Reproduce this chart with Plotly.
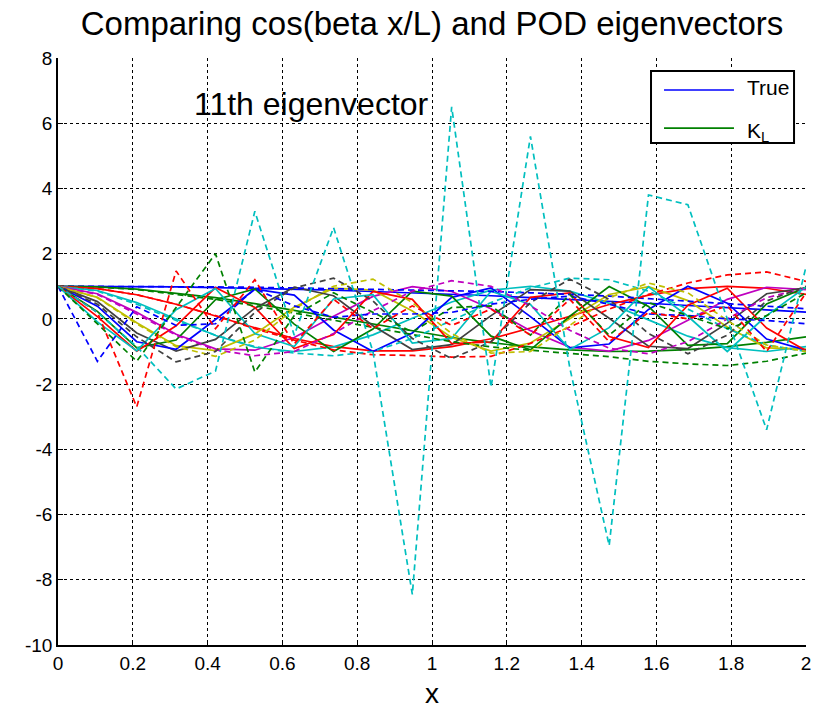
import plotly.graph_objects as go

# grid positions
x_vals = [0.0, 0.1053, 0.2105, 0.3158, 0.4211, 0.5263, 0.6316, 0.7368, 0.8421, 0.9474,
          1.0526, 1.1579, 1.2632, 1.3684, 1.4737, 1.5789, 1.6842, 1.7895, 1.8947, 2.0]

# "True" cos(beta x/L) eigenfunctions (solid)
true_1 = [1.00, 1.00, 0.99, 0.98, 0.96, 0.94, 0.91, 0.88, 0.84, 0.80, 0.76, 0.71, 0.65, 0.60, 0.54, 0.48, 0.41, 0.35, 0.28, 0.21]
true_2 = [1.00, 0.98, 0.91, 0.79, 0.65, 0.47, 0.26, 0.05, -0.17, -0.38, -0.57, -0.73, -0.86, -0.95, -1.00, -0.99, -0.94, -0.85, -0.72, -0.55]
true_3 = [1.00, 0.93, 0.74, 0.45, 0.09, -0.27, -0.60, -0.85, -0.98, -0.98, -0.85, -0.61, -0.28, 0.09, 0.44, 0.73, 0.93, 1.00, 0.94, 0.75]
true_4 = [1.00, 0.87, 0.50, -0.01, -0.51, -0.87, -1.00, -0.86, -0.49, 0.02, 0.52, 0.88, 1.00, 0.85, 0.48, -0.03, -0.53, -0.88, -1.00, -0.85]
true_5 = [1.00, 0.77, 0.20, -0.47, -0.92, -0.96, -0.57, 0.08, 0.69, 0.99, 0.84, 0.31, -0.36, -0.87, -0.99, -0.66, -0.04, 0.60, 0.97, 0.90]
true_6 = [1.00, 0.66, -0.12, -0.82, -0.97, -0.46, 0.36, 0.94, 0.88, 0.24, -0.57, -0.99, -0.74, 0.01, 0.75, 0.99, 0.56, -0.25, -0.89, -0.93]
true_7 = [1.00, 0.53, -0.43, -0.99, -0.63, 0.33, 0.97, 0.71, -0.21, -0.94, -0.79, 0.10, 0.90, 0.85, 0.02, -0.84, -0.91, -0.13, 0.77, 0.95]
true_8 = [1.00, 0.39, -0.70, -0.93, -0.02, 0.91, 0.73, -0.34, -1.00, -0.43, 0.66, 0.95, 0.07, -0.89, -0.77, 0.29, 1.00, 0.48, -0.62, -0.96]
true_9 = [1.00, 0.23, -0.89, -0.65, 0.59, 0.92, -0.16, -1.00, -0.31, 0.85, 0.70, -0.53, -0.95, 0.08, 0.99, 0.38, -0.81, -0.76, 0.46, 0.97]
true_10 = [1.00, 0.07, -0.99, -0.21, 0.96, 0.35, -0.91, -0.48, 0.84, 0.60, -0.76, -0.71, 0.66, 0.80, -0.54, -0.88, 0.42, 0.94, -0.28, -0.98]
true_11 = [1.00, -0.09, -0.98, 0.28, 0.93, -0.45, -0.85, 0.61, 0.74, -0.74, -0.60, 0.85, 0.44, -0.94, -0.27, 0.98, 0.08, -1.00, 0.10, 0.98]

# POD (K-L) eigenvectors (dashed)
pod_1 = [1.00, 1.00, 1.00, 0.99, 0.98, 0.97, 0.95, 0.93, 0.91, 0.89, 0.87, 0.84, 0.80, 0.76, 0.70, 0.62, 0.55, 0.47, 0.39, 0.31]
pod_2 = [1.00, 0.98, 0.90, 0.76, 0.60, 0.40, 0.18, -0.05, -0.28, -0.50, -0.70, -0.86, -0.97, -1.06, -1.16, -1.30, -1.38, -1.43, -1.30, -1.05]
pod_3 = [1.00, 0.93, 0.74, 0.45, 0.10, -0.30, -0.65, -0.95, -1.10, -1.12, -1.17, -1.15, -0.75, -0.25, 0.30, 0.75, 1.10, 1.35, 1.44, 1.15]
pod_4 = [1.00, 0.85, 0.45, -0.05, -0.50, -0.85, -1.05, -1.13, -1.00, -0.60, -0.05, 0.50, 0.95, 1.25, 1.20, 0.85, 0.30, -0.30, -0.80, -1.00]
pod_5 = [1.00, 0.75, 0.15, -0.50, -0.95, -1.13, -1.00, -0.45, 0.25, 0.85, 1.17, 1.00, 0.40, -0.35, -0.90, -1.07, -0.70, 0.00, 0.65, 0.95]
pod_6 = [1.00, 0.65, -0.15, -0.85, -1.15, -0.65, 0.30, 1.00, 1.22, 0.50, -0.45, -1.05, -1.00, -0.20, 0.65, 1.10, 0.80, -0.05, -0.80, -1.00]
pod_7 = [1.00, 0.45, -0.55, -1.32, -1.00, 0.20, 0.95, 1.25, 0.55, -0.60, -1.22, -0.70, 0.50, 1.22, 0.60, -0.45, -1.07, -0.50, 0.55, 1.00]
pod_8 = [1.00, -1.30, 0.37, -0.20, -0.15, 0.92, 0.40, 0.05, 0.15, 0.15, 0.20, 0.45, 0.60, 0.70, 0.45, 0.15, 0.10, 0.00, -0.05, -0.15]
pod_9 = [1.00, -0.15, -1.30, 0.35, 2.00, -1.63, 0.10, 0.80, 0.20, -0.40, 0.35, 0.40, -0.50, 0.75, -0.50, 0.50, 0.10, -0.30, 0.10, 0.80]
pod_10 = [1.00, 0.20, -2.70, 1.47, -0.30, 1.20, -0.77, 0.60, -0.30, 0.40, -0.20, 0.30, -0.50, 0.60, -0.70, 0.20, 0.00, 0.40, -1.00, 0.80]
pod_11 = [1.00, 0.20, -0.85, -2.15, -1.60, 3.30, -0.50, 2.80, -1.00, -8.45, 6.50, -2.10, 5.60, -1.50, -6.95, 3.80, 3.50, 0.00, -3.40, 1.60]

# axis ticks
y_tick_vals = [-10, -8, -6, -4, -2, 0, 2, 4, 6, 8]
y_tick_text = ["-10", "-8", "-6", "-4", "-2", "0", "2", "4", "6", "8"]
x_tick_vals = [0, 0.2, 0.4, 0.6, 0.8, 1, 1.2, 1.4, 1.6, 1.8, 2]
x_tick_text = ["0", "0.2", "0.4", "0.6", "0.8", "1", "1.2", "1.4", "1.6", "1.8", "2"]

true_series = [true_1, true_2, true_3, true_4, true_5, true_6, true_7, true_8, true_9, true_10, true_11]
pod_series = [pod_1, pod_2, pod_3, pod_4, pod_5, pod_6, pod_7, pod_8, pod_9, pod_10, pod_11]

color_order = ["#0000ff", "#008000", "#ff0000", "#00bfbf", "#bf00bf", "#bfbf00", "#404040"]

fig = go.Figure()
for i, ys in enumerate(true_series):
    fig.add_trace(go.Scatter(
        x=x_vals, y=ys, mode="lines",
        line=dict(color=color_order[i % 7], width=1.7),
        showlegend=False))
for i, ys in enumerate(pod_series):
    fig.add_trace(go.Scatter(
        x=x_vals, y=ys, mode="lines",
        line=dict(color=color_order[i % 7], width=1.7, dash="6px,4px"),
        showlegend=False))

font_family = "Liberation Sans, Arial, Helvetica, sans-serif"

# MATLAB-style legend box (first two plotted lines)
box_x0, box_x1, box_y0, box_y1 = 0.7928, 0.9840, 0.8552, 0.9779
shapes = [
    dict(type="rect", xref="paper", yref="paper", x0=box_x0, x1=box_x1, y0=box_y0, y1=box_y1,
         fillcolor="white", line=dict(color="black", width=2), layer="above"),
    dict(type="line", xref="paper", yref="paper", x0=0.8102, x1=0.9037, y0=0.9455, y1=0.9455,
         line=dict(color=color_order[0], width=1.7), layer="above"),
    dict(type="line", xref="paper", yref="paper", x0=0.8102, x1=0.9037, y0=0.8807, y1=0.8807,
         line=dict(color=color_order[1], width=1.7), layer="above"),
]

annotations = [
    dict(text="11th eigenvector", x=0.358, y=6.6, xref="x", yref="y",
         xanchor="left", yanchor="middle", showarrow=False,
         font=dict(size=32, family=font_family, color="black")),
    dict(text="True", x=0.9184, y=0.9489, xref="paper", yref="paper",
         xanchor="left", yanchor="middle", showarrow=False,
         font=dict(size=21, family=font_family, color="black")),
    dict(text="K<sub>L</sub>", x=0.9184, y=0.874, xref="paper", yref="paper",
         xanchor="left", yanchor="middle", showarrow=False,
         font=dict(size=21, family=font_family, color="black")),
    dict(text="x", x=0.5, y=-0.0818, xref="paper", yref="paper",
         xanchor="center", yanchor="middle", showarrow=False,
         font=dict(size=28, family=font_family, color="black")),
]

fig.update_layout(
    width=820, height=712,
    margin=dict(l=58, r=14, t=58, b=67),
    paper_bgcolor="white", plot_bgcolor="white",
    font=dict(family=font_family, color="black"),
    title=dict(text="Comparing cos(beta x/L) and POD eigenvectors",
               x=0.5, xref="paper", xanchor="center", y=0.967, yanchor="middle",
               font=dict(size=33, family=font_family, color="black")),
    showlegend=False,
    shapes=shapes,
    annotations=annotations,
)
fig.update_xaxes(range=[0, 2], tickvals=x_tick_vals, ticktext=x_tick_text,
                 showgrid=True, gridcolor="black", automargin=False,
                 griddash="dot", gridwidth=1, zeroline=False, showline=True,
                 linecolor="black", linewidth=1.5, ticks="inside", ticklen=5,
                 tickcolor="black", tickfont=dict(size=19, family=font_family))
fig.update_yaxes(range=[-10, 8], tickvals=y_tick_vals, ticktext=y_tick_text,
                 showgrid=True, gridcolor="black", automargin=False,
                 griddash="dot", gridwidth=1, zeroline=False, showline=True,
                 linecolor="black", linewidth=1.5, ticks="inside", ticklen=5,
                 tickcolor="black", tickfont=dict(size=19, family=font_family))
fig.write_html("out.html")
